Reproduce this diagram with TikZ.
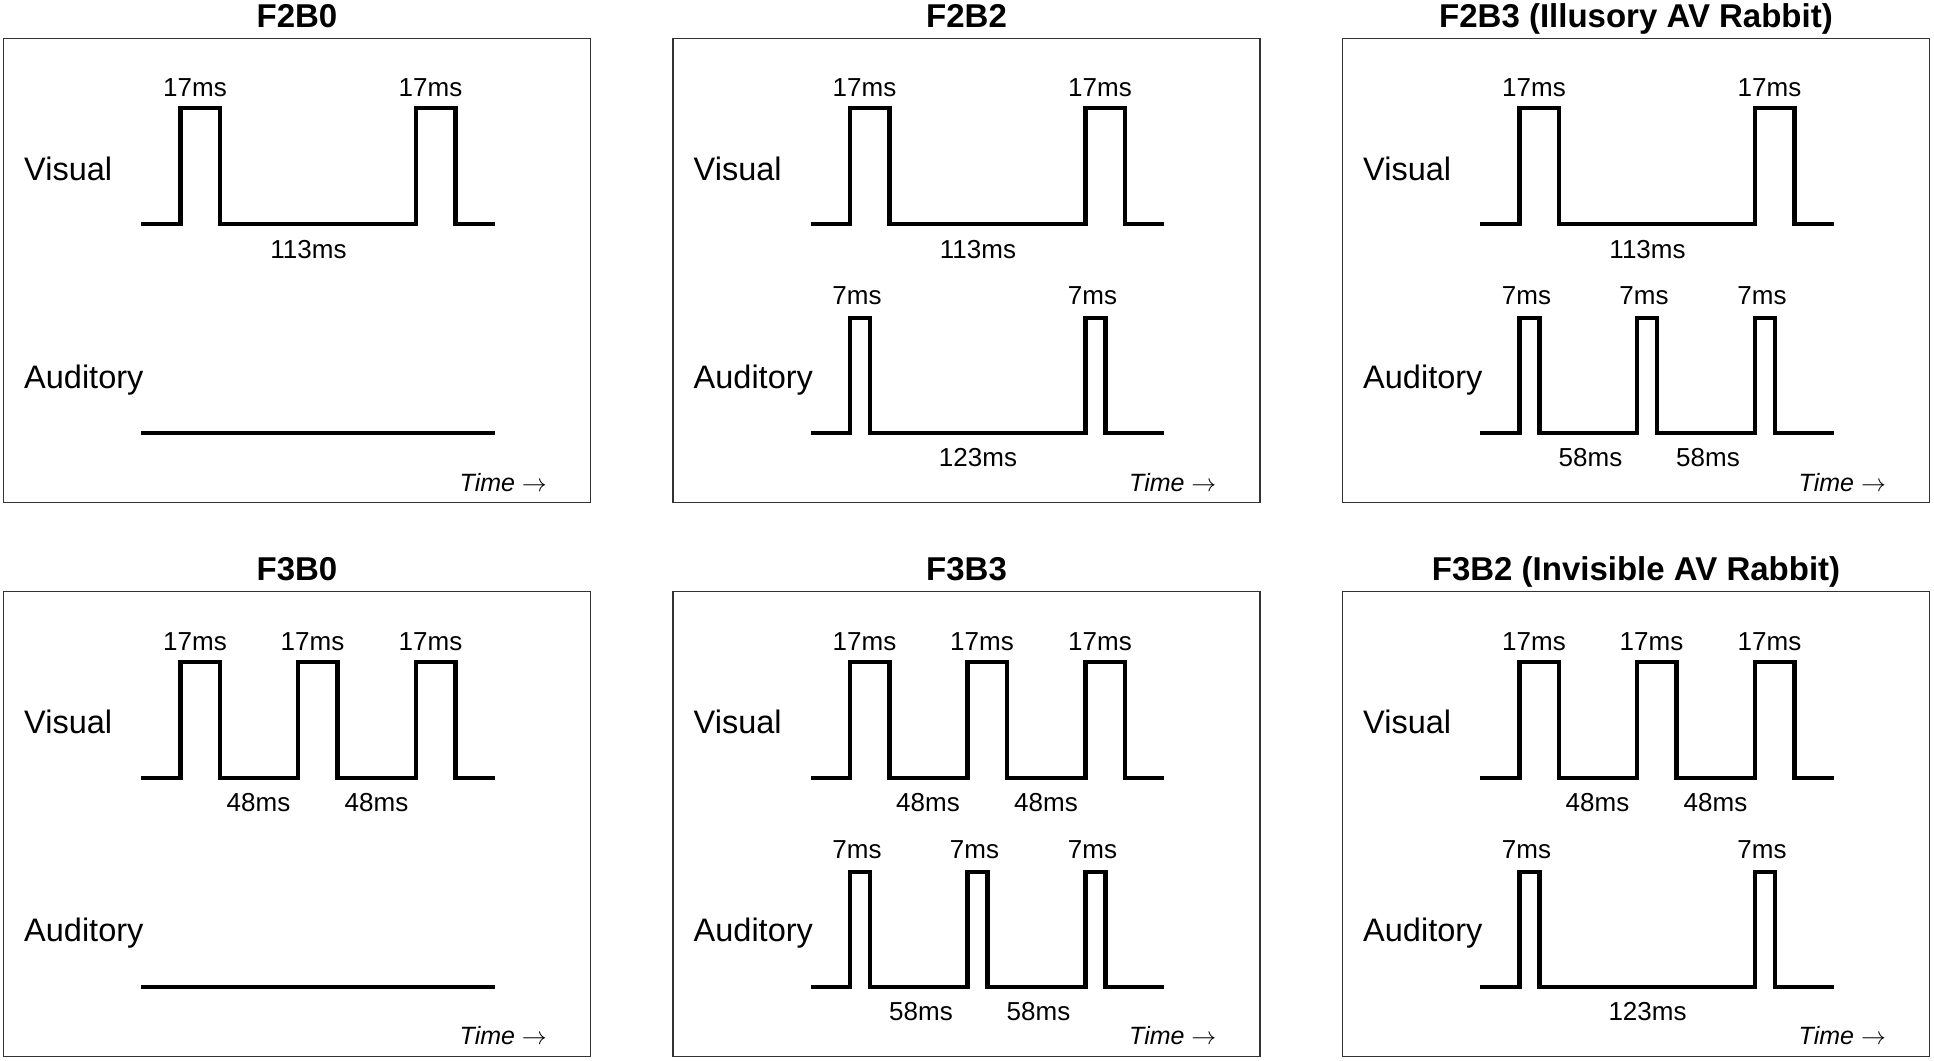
\documentclass[tikz,border=0pt]{standalone}
\usepackage{fontspec}
\setmainfont{Liberation Sans}
\tikzset{
  boxline/.style={draw=black!80, line width=1.2pt},
  sig/.style={line width=4.2pt, line join=miter},
  ttl/.style={font=\fontsize{33}{40}\selectfont\bfseries, inner sep=0pt, anchor=base},
  chan/.style={font=\fontsize{32.5}{39}\selectfont, inner sep=0pt, anchor=base west},
  dur/.style={font=\fontsize{26}{31}\selectfont, inner sep=0pt, anchor=base},
  tlab/.style={font=\fontsize{25}{30}\selectfont, inner sep=0pt, anchor=base west},
}
\newcommand\PanelFrame[2]{%
  \draw[boxline] (0,0) rectangle (587,-464.5);
  \node[ttl] (#1-title) at (293.5,11) {#2};
  \node[chan] (#1-vis) at (20.5,-142) {Visual};
  \node[chan] (#1-aud) at (20.5,-350) {Auditory};
  \node[tlab] (#1-time) at (456,-453) {\textit{Time} $\rightarrow$};
}
\newcommand\VisTwo[1]{%
  \draw[sig] (137.5,-186) -| (177,-70) -| (216.5,-186) -| (412.5,-70) -| (452,-186) -- (491,-186);
  \node[dur] (#1-v17a) at (191.5,-58.5) {17ms};
  \node[dur] (#1-v17b) at (427,-58.5) {17ms};
  \node[dur] (#1-vgap) at (305,-220) {113ms};
}
\newcommand\VisThree[1]{%
  \draw[sig] (137.5,-186) -| (177,-70) -| (216.5,-186) -| (294.5,-70) -| (334,-186) -| (412.5,-70) -| (452,-186) -- (491,-186);
  \node[dur] (#1-v17a) at (191.5,-58.5) {17ms};
  \node[dur] (#1-v17b) at (309,-58.5) {17ms};
  \node[dur] (#1-v17c) at (427,-58.5) {17ms};
  \node[dur] (#1-vgapa) at (255,-220) {48ms};
  \node[dur] (#1-vgapb) at (373,-220) {48ms};
}
\newcommand\AudZero[1]{%
  \draw[sig] (137.5,-395) -- (491,-395);
}
\newcommand\AudTwo[1]{%
  \draw[sig] (137.5,-395) -| (177,-280) -| (197,-395) -| (412.5,-280) -| (432.5,-395) -- (491,-395);
  \node[dur] (#1-a7a) at (184,-266.5) {7ms};
  \node[dur] (#1-a7b) at (419.5,-266.5) {7ms};
  \node[dur] (#1-agap) at (305,-428.5) {123ms};
}
\newcommand\AudThree[1]{%
  \draw[sig] (137.5,-395) -| (177,-280) -| (197,-395) -| (294.5,-280) -| (314.5,-395) -| (412.5,-280) -| (432.5,-395) -- (491,-395);
  \node[dur] (#1-a7a) at (184,-266.5) {7ms};
  \node[dur] (#1-a7b) at (301.5,-266.5) {7ms};
  \node[dur] (#1-a7c) at (419.5,-266.5) {7ms};
  \node[dur] (#1-agapa) at (248,-428.5) {58ms};
  \node[dur] (#1-agapb) at (365.5,-428.5) {58ms};
}
\begin{document}
\begin{tikzpicture}[x=1pt,y=1pt]
  \useasboundingbox (0,0) rectangle (1934,-1060);
  \begin{scope}[shift={(3.5,-38.3)}]
    \PanelFrame{p1}{F2B0}\VisTwo{p1}\AudZero{p1}
  \end{scope}
  \begin{scope}[shift={(673,-38.3)}]
    \PanelFrame{p2}{F2B2}\VisTwo{p2}\AudTwo{p2}
  \end{scope}
  \begin{scope}[shift={(1342.5,-38.3)}]
    \PanelFrame{p3}{F2B3 (Illusory AV Rabbit)}\VisTwo{p3}\AudThree{p3}
  \end{scope}
  \begin{scope}[shift={(3.5,-591.7)}]
    \PanelFrame{p4}{F3B0}\VisThree{p4}\AudZero{p4}
  \end{scope}
  \begin{scope}[shift={(673,-591.7)}]
    \PanelFrame{p5}{F3B3}\VisThree{p5}\AudThree{p5}
  \end{scope}
  \begin{scope}[shift={(1342.5,-591.7)}]
    \PanelFrame{p6}{F3B2 (Invisible AV Rabbit)}\VisThree{p6}\AudTwo{p6}
  \end{scope}
\end{tikzpicture}
\end{document}
